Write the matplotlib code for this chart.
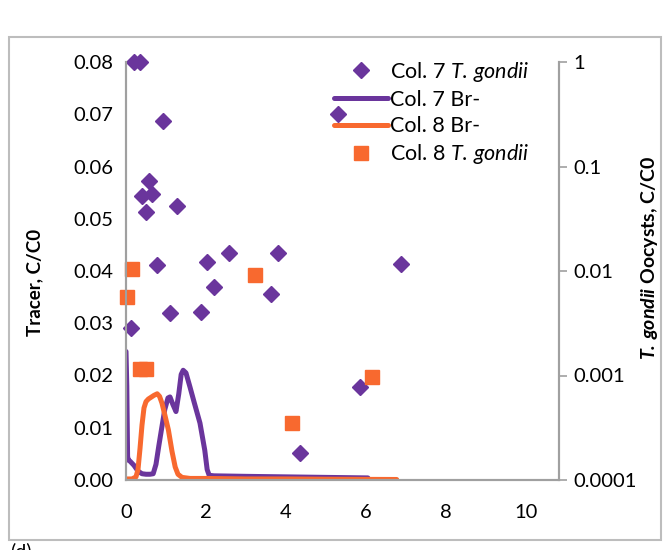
import matplotlib.pyplot as plt
from matplotlib.patches import Rectangle
from matplotlib.ticker import FixedLocator, FuncFormatter

plt.rcParams['font.family'] = 'Lato'
plt.rcParams['mathtext.fontset'] = 'custom'
plt.rcParams['mathtext.rm'] = 'Lato'
plt.rcParams['mathtext.it'] = 'Lato:italic'
plt.rcParams['mathtext.bf'] = 'Lato:bold'
plt.rcParams['mathtext.bfit'] = 'Lato:italic:bold'

# Br- tracer breakthrough (left axis)
col7_br_x = [0.0, 0.02, 0.04, 0.06, 0.1, 0.2, 0.3, 0.4, 0.5, 0.6, 0.68, 0.75, 0.82, 0.89, 0.97,
             1.05, 1.1, 1.17, 1.25, 1.32, 1.38, 1.43, 1.5, 1.6, 1.7, 1.85, 1.97, 2.03, 2.08,
             2.2, 3.0, 4.0, 5.0, 6.05]
col7_br_y = [0.0246, 0.018, 0.0045, 0.0038, 0.0036, 0.0028, 0.0017, 0.0012, 0.0011, 0.0011, 0.0012,
             0.003, 0.0065, 0.0098, 0.0135, 0.0157, 0.0159, 0.0145, 0.0131, 0.0165, 0.0202, 0.021,
             0.0205, 0.0178, 0.015, 0.0109, 0.0057, 0.002, 0.0009, 0.0008, 0.0007, 0.0006, 0.0005,
             0.0004]
col8_br_x = [0.0, 0.15, 0.25, 0.3, 0.35, 0.4, 0.45, 0.5, 0.56, 0.62, 0.7, 0.78, 0.84, 0.9, 0.97,
             1.06, 1.15, 1.23, 1.3, 1.4, 1.6, 2.0, 3.0, 4.0, 5.0, 6.77]
col8_br_y = [0.0002, 0.0002, 0.0006, 0.002, 0.006, 0.0105, 0.0138, 0.015, 0.0155, 0.0158, 0.0162,
             0.0165, 0.016, 0.0147, 0.0125, 0.0096, 0.0055, 0.0025, 0.0011, 0.0005, 0.0003,
             0.0003, 0.0002, 0.0002, 0.00015, 0.0001]

# T. gondii oocysts (right axis, log)
col7_tg_x = [0.2, 0.35, 0.93, 0.58, 0.41, 0.66, 0.5, 1.27, 5.29, 0.13, 0.78, 1.1, 1.87, 2.03,
             2.2, 2.58, 3.63, 3.81, 4.35, 6.89, 5.85]
col7_tg_y = [1.0, 1.0, 0.272, 0.0726, 0.0523, 0.0546, 0.0369, 0.0422, 0.318, 0.00283, 0.0114,
             0.00394, 0.00402, 0.0121, 0.00708, 0.015, 0.00598, 0.015, 0.00018, 0.0117, 0.00078]
col8_tg_x = [0.16, 0.03, 0.36, 0.51, 3.23, 4.16, 6.16]
col8_tg_y = [0.0104, 0.00568, 0.00115, 0.00115, 0.00916, 0.000349, 0.000975]

purple = '#6a359c'
orange = '#f8692f'
grey = '#a0a0a0'

fig = plt.figure(figsize=(6.69, 5.5), dpi=100)
fig.patches.append(Rectangle((9 / 669, 10 / 550), 652 / 669, 503 / 550, transform=fig.transFigure,
                             fill=False, edgecolor='#bdbdbd', linewidth=1.5))

ax = fig.add_axes([126 / 669, 1 - 480 / 550, 433 / 669, 418 / 550])
ax2 = ax.twinx()

l7, = ax.plot(col7_br_x, col7_br_y, color=purple, lw=3.6, solid_capstyle='round')
l8, = ax.plot(col8_br_x, col8_br_y, color=orange, lw=3.6, solid_capstyle='round')
ax.set_xlim(0, 10.83)
ax.set_ylim(0, 0.08)
ax.set_xticks([0, 2, 4, 6, 8, 10])
ax.set_yticks([0, 0.01, 0.02, 0.03, 0.04, 0.05, 0.06, 0.07, 0.08])
ax.yaxis.set_major_formatter(FuncFormatter(lambda v, p: '%.2f' % v))
ax.tick_params(axis='both', length=0, labelsize=14.5)
ax.tick_params(axis='x', pad=17)
ax.tick_params(axis='y', pad=9)

m7, = ax2.plot(col7_tg_x, col7_tg_y, 'D', color=purple, ms=8, mec=purple, clip_on=False)
m8, = ax2.plot(col8_tg_x, col8_tg_y, 's', color=orange, ms=9.5, mec=orange, clip_on=False)
ax2.set_yscale('log')
ax2.set_ylim(0.0001, 1)
ax2.yaxis.set_major_locator(FixedLocator([0.0001, 0.001, 0.01, 0.1, 1]))
ax2.yaxis.set_minor_locator(FixedLocator([]))
ax2.yaxis.set_major_formatter(FuncFormatter(lambda v, p: '%g' % v if v >= 0.001 else '0.0001'))
ax2.tick_params(axis='y', length=6, width=1.2, color=grey, labelsize=14.5, pad=4)

for a in (ax, ax2):
    a.spines['top'].set_visible(False)
    a.spines['left'].set_color(grey)
    a.spines['bottom'].set_color(grey)
    a.spines['right'].set_color(grey)
    a.spines['left'].set_linewidth(1.5)
    a.spines['bottom'].set_linewidth(1.5)
    a.spines['right'].set_linewidth(1.5)
ax2.set_zorder(ax.zorder + 1)
ax2.patch.set_visible(False)

fig.text(35 / 669, 1 - 282 / 550, 'Tracer, C/C0', rotation=90, ha='center', va='center',
         fontsize=13.5, fontweight='bold')
fig.text(650 / 669, 1 - 258 / 550, r'$\mathbfit{T.\,gondii}$ Oocysts, C/C0', rotation=90,
         ha='center', va='center', fontsize=14, fontweight='bold')
fig.text(10 / 669, 1 - 542 / 550, '(d)', fontsize=14, va='top', ha='left')

ax2.legend([m7, l7, l8, m8],
           [r'Col. 7 $\mathit{T.\,gondii}$', 'Col. 7 Br-', 'Col. 8 Br-', r'Col. 8 $\mathit{T.\,gondii}$'],
           loc='upper left', bbox_to_anchor=(334 / 669, 1 - 60 / 550), bbox_transform=fig.transFigure,
           frameon=False, fontsize=15.5, handlelength=2.5, handletextpad=0.12, labelspacing=0.28,
           borderpad=0, borderaxespad=0)

fig.savefig('out.png', dpi=100)
